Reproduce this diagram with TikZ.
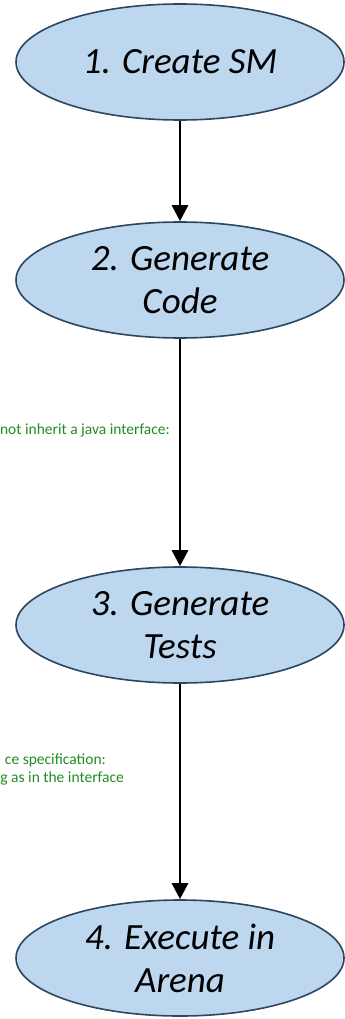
\documentclass[tikz,border=0pt]{standalone}
\usepackage{fontspec}
\setmainfont{Carlito}
\usetikzlibrary{shapes.geometric,arrows.meta}
\definecolor{stagefill}{RGB}{189,215,238}
\definecolor{stageline}{RGB}{44,70,98}
\definecolor{notegreen}{RGB}{34,139,34}

\begin{document}
\begin{tikzpicture}[x=1pt, y=-1pt,
    stage/.style={ellipse, draw=stageline, line width=1.6pt, fill=stagefill,
      minimum width=328pt, minimum height=116pt, inner sep=0pt, align=center,
      font=\fontsize{37}{43}\selectfont\itshape},
    flow/.style={line width=2.8pt, -{Triangle[width=16pt,length=16pt]}},
    note/.style={font=\fontsize{15.5}{18}\selectfont, text=notegreen,
      anchor=east, inner sep=0pt}]
    \useasboundingbox (0,0) rectangle (345,1019);

    % --- the four stages, top to bottom (name, centre y, text) ---
    \foreach \n/\y/\t in {%
      create/62/{1. Create SM}, code/280/{2. Generate\\Code},
      tests/625/{3. Generate\\Tests}, arena/958/{4. Execute in\\Arena}}{
      \node[stage] (\n) at (180,\y) {\t};
    }

    % --- arrows between the stages ---
    \foreach \a/\b in {create/code, code/tests, tests/arena}{
      \draw[flow] (\a) -- (\b);
    }

    % --- green notes near the left edge ---
    \node[note] (noteone) at (170,430) {not inherit a java interface:};
    \node[note] (notetwo) at (106,760) {ce specification:};
    \node[note] (notethree) at (124,778) {g as in the interface};
  \end{tikzpicture}
\end{document}
